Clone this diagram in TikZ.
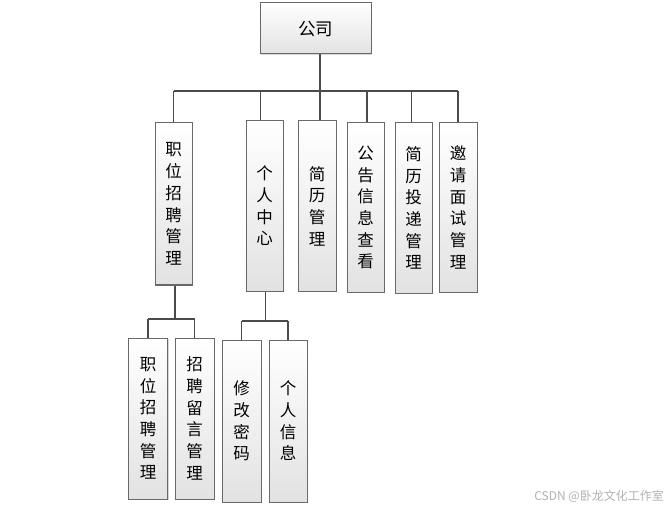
\documentclass[tikz,border=0pt]{standalone}
\usepackage{fontspec}
\setmainfont{Noto Sans CJK SC}
\newfontfamily\cjkfont{Noto Sans CJK SC}
\usetikzlibrary{shadows}
\definecolor{boxline}{RGB}{105,105,105}
\definecolor{connline}{RGB}{75,75,75}
\definecolor{boxbot}{RGB}{226,226,226}
\tikzset{
  box/.style={rectangle, draw=boxline, line width=1pt, top color=white, bottom color=boxbot,
    inner sep=0pt, align=center, text=black, font=\cjkfont\fontsize{16.5}{21.7}\selectfont,
    drop shadow={shadow xshift=1pt, shadow yshift=-1pt, fill=black!25, opacity=0.6}},
  conn/.style={draw=connline, line width=1.5pt}
}
\begin{document}
\begin{tikzpicture}[x=1pt,y=-1pt]
\useasboundingbox[fill=white] (0,0) rectangle (671,510);
% top
\node[box, minimum width=111pt, minimum height=51pt, font=\cjkfont\fontsize{17.5}{21}\selectfont] (gs) at (315.5,28.5) {公司};
% level 1
\node[box, minimum width=37pt, minimum height=162pt] (j1) at (173.5,204) {职\\位\\招\\聘\\管\\理};
\node[box, minimum width=37pt, minimum height=170pt] (gr) at (264.5,206) {个\\人\\中\\心};
\node[box, minimum width=38pt, minimum height=170pt] (jl) at (317,206) {简\\历\\管\\理};
\node[box, minimum width=37pt, minimum height=169pt] (gg) at (365.5,207.5) {公\\告\\信\\息\\查\\看};
\node[box, minimum width=37pt, minimum height=170pt] (td) at (413.5,208) {简\\历\\投\\递\\管\\理};
\node[box, minimum width=38pt, minimum height=169pt] (yq) at (458,207.5) {邀\\请\\面\\试\\管\\理};
% level 2
\node[box, minimum width=39pt, minimum height=161pt] (s1) at (148,418.5) {职\\位\\招\\聘\\管\\理};
\node[box, minimum width=39pt, minimum height=161pt] (s2) at (194.5,418.5) {招\\聘\\留\\言\\管\\理};
\node[box, minimum width=39pt, minimum height=162pt] (s3) at (241.5,421) {修\\改\\密\\码};
\node[box, minimum width=38pt, minimum height=162pt] (s4) at (288,421) {个\\人\\信\\息};
% connectors level 0 -> 1
\draw[conn] ([xshift=4.5pt]gs.south) -- ([xshift=4.5pt]gs.south |- 0,91);
\draw[conn] (j1.north |- 0,91) -- (yq.north |- 0,91);
\draw[conn] (j1.north) -- (j1.north |- 0,91);
\draw[conn] ([xshift=-4pt]gr.north) -- ([xshift=-4pt]gr.north |- 0,91);
\draw[conn] ([xshift=3pt]jl.north) -- ([xshift=3pt]jl.north |- 0,91);
\draw[conn] ([xshift=1.5pt]gg.north) -- ([xshift=1.5pt]gg.north |- 0,91);
\draw[conn] ([xshift=-2pt]td.north) -- ([xshift=-2pt]td.north |- 0,91);
\draw[conn] (yq.north) -- (yq.north |- 0,91);
% connectors level 1 -> 2 (left)
\draw[conn] ([xshift=1.5pt]j1.south) -- ([xshift=1.5pt]j1.south |- 0,319);
\draw[conn] (s1.north |- 0,319) -- (s2.north |- 0,319);
\draw[conn] (s1.north) -- (s1.north |- 0,319);
\draw[conn] (s2.north) -- (s2.north |- 0,319);
% connectors level 1 -> 2 (right)
\draw[conn] ([xshift=1pt]gr.south) -- ([xshift=1pt]gr.south |- 0,321);
\draw[conn] (s3.north |- 0,321) -- (s4.north |- 0,321);
\draw[conn] (s3.north) -- (s3.north |- 0,321);
\draw[conn] (s4.north) -- (s4.north |- 0,321);
% watermark
\node[anchor=east, text=black!30, font=\cjkfont\fontsize{12}{14}\selectfont, inner sep=0pt] (wm) at (664,496) {CSDN @卧龙文化工作室};
\end{tikzpicture}
\end{document}
